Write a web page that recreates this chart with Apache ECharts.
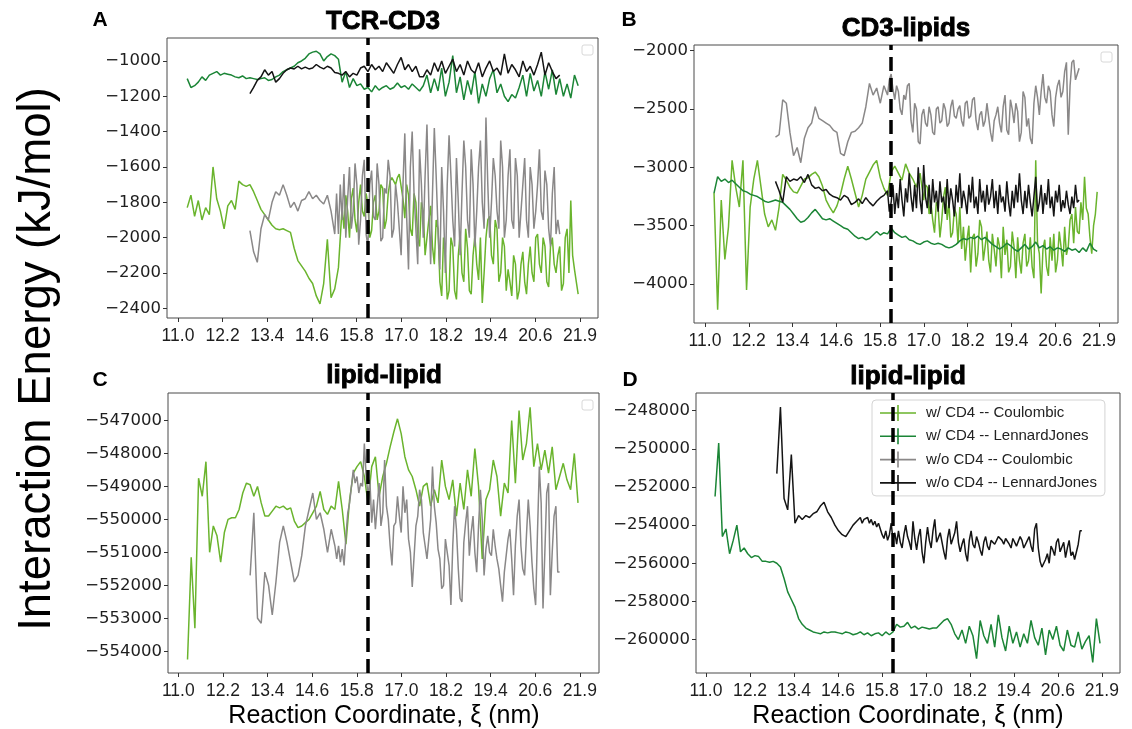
<!DOCTYPE html>
<html>
<head>
<meta charset="utf-8">
<script src="https://cdn.jsdelivr.net/npm/echarts@6/dist/echarts.min.js"></script>
<style>html,body{margin:0;padding:0;background:#fff}#c{width:1132px;height:729px}</style>
</head>
<body>
<div id="c"></div>
<script>
// ---------- tick labels ----------
const xTickValues = [11.0, 12.211, 13.422, 14.633, 15.844, 17.056, 18.267, 19.478, 20.689, 21.9];
const xTickLabels = ['11.0','12.2','13.4','14.6','15.8','17.0','18.2','19.4','20.6','21.9'];
const yTicksA = [-2400,-2200,-2000,-1800,-1600,-1400,-1200,-1000];
const yTicksB = [-4000,-3500,-3000,-2500,-2000];
const yTicksC = [-554000,-553000,-552000,-551000,-550000,-549000,-548000,-547000];
const yTicksD = [-260000,-258000,-256000,-254000,-252000,-250000,-248000];

// ---------- series names / x ranges (nm) ----------
const seriesNames = ['w/ CD4 -- Coulombic','w/ CD4 -- LennardJones','w/o CD4 -- Coulombic','w/o CD4 -- LennardJones'];
const withCD4Range = [11.25, 21.85];     // samples every 0.1 nm
const withoutCD4Range = [12.95, 21.35];  // samples every 0.1 nm
const dividerX = 16.15;

// ---------- Panel A: TCR-CD3 ----------
const A_wCoul_rangeA = [11.25, 15.35];   // every 0.1 nm
const A_wCoul_a = [-1830,-1760,-1880,-1790,-1900,-1830,-1870,-1600,-1780,-1850,
 -1950,-1820,-1790,-1840,-1680,-1700,-1710,-1700,-1740,-1790,
 -1840,-1870,-1900,-1930,-1950,-1955,-1950,-1960,-1970,-2060,
 -2130,-2160,-2190,-2230,-2260,-2330,-2375,-2260,-2010,-2340,
 -2290,-2170];
const A_wCoul_rangeB = [15.45, 21.85];   // every 0.05 nm
const A_wCoul_b = [-1830,-1950,-1760,-1850,-2000,-1780,-1720,-1900,-1970,-1800,
 -1700,-1850,-1880,-1750,-1810,-2000,-1960,-1800,-1760,-1900,
 -1850,-1700,-1720,-1950,-1900,-1750,-1680,-1660,-1650,-1700,
 -1660,-1640,-1640,-1780,-1890,-1700,-1760,-1950,-1990,-1750,
 -1800,-2000,-2050,-1800,-1850,-2100,-2090,-1900,-1820,-2050,
 -2150,-1900,-1950,-2250,-2330,-2000,-2100,-2350,-2300,-2000,
 -2050,-2300,-2350,-2100,-1980,-2200,-2250,-1950,-2060,-2300,
 -2320,-2100,-1990,-2150,-2240,-2000,-2370,-2200,-2000,-1900,
 -1880,-2100,-2150,-1900,-1950,-2250,-2200,-2000,-2050,-2300,
 -2180,-2250,-2330,-2100,-2150,-2350,-2300,-2150,-2080,-2250,
 -2320,-2150,-2050,-2200,-2250,-2000,-1980,-2150,-2200,-2000,
 -2050,-2250,-2280,-2050,-2000,-2150,-2200,-2100,-2050,-2300,
 -2260,-2000,-1950,-2200,-1790,-2100,-2180,-2250,-2320];
const A_wLJ = [-1100,-1150,-1140,-1120,-1090,-1110,-1080,-1070,-1060,-1080,
 -1070,-1075,-1080,-1090,-1095,-1085,-1100,-1095,-1100,-1105,
 -1100,-1095,-1110,-1105,-1090,-1080,-1060,-1050,-1040,-1030,
 -1010,-1000,-985,-960,-950,-945,-960,-1000,-975,-960,
 -970,-990,-1120,-1060,-1150,-1100,-1140,-1130,-1160,-1150,
 -1175,-1140,-1165,-1150,-1140,-1160,-1150,-1125,-1150,-1140,
 -1160,-1130,-1150,-1170,-1140,-1080,-1180,-1100,-1170,-1040,
 -1200,-1120,-970,-1180,-1090,-1220,-1110,-1190,-1060,-1240,
 -1130,-1200,-1100,-1050,-1180,-1130,-1200,-1230,-1190,-1210,
 -1150,-1080,-1200,-1070,-1170,-1110,-1200,-1060,-1160,-1050,
 -1190,-1100,-1200,-1130,-1210,-1080,-1140];
const A_woCoul_rangeA = [12.95, 15.25];  // every 0.1 nm
const A_woCoul_a = [-1960,-2080,-2140,-1950,-1870,-1900,-1800,-1740,-1760,-1700,
 -1760,-1830,-1800,-1850,-1790,-1780,-1740,-1780,-1760,-1790,
 -1810,-1760,-1850,-1980];
const A_woCoul_rangeB = [15.30, 21.35];  // every 0.05 nm
const A_woCoul_b = [-1750,-1980,-1700,-1900,-1640,-2000,-1780,-1600,-1950,-1850,
 -1580,-1700,-2040,-1900,-1650,-1560,-1980,-2050,-1700,-1620,
 -1880,-1900,-1580,-1700,-2020,-2000,-1720,-1750,-1560,-1650,
 -2000,-1950,-1700,-1800,-1950,-2100,-1700,-1410,-1880,-2180,
 -1600,-1400,-1750,-1950,-2150,-1500,-1700,-2000,-1650,-1360,
 -1800,-2150,-1750,-1380,-1650,-1950,-2180,-1600,-1850,-2200,
 -1700,-1420,-1650,-1900,-2050,-1550,-1800,-2100,-1750,-1450,
 -1600,-1900,-2000,-1500,-1700,-2050,-1850,-1600,-1450,-1800,
 -1950,-1320,-1700,-2000,-1800,-1550,-1650,-1850,-1950,-1450,
 -1600,-2000,-1900,-1650,-1500,-1900,-1950,-1550,-1650,-2000,
 -1850,-1700,-1550,-1900,-2000,-1600,-1700,-1950,-1850,-1700,
 -1500,-1850,-1900,-1620,-1700,-1950,-2050,-1750,-1600,-1980,
 -1900,-1980];
const A_woLJ = [-1185,-1150,-1110,-1090,-1050,-1080,-1060,-1120,-1100,-1070,
 -1050,-1040,-1045,-1030,-1045,-1035,-1045,-1040,-1020,-1035,
 -1045,-1030,-1040,-1065,-1070,-1080,-1060,-1090,-1070,-1080,
 -1040,-1030,-1060,-1020,-1050,-1030,-1060,-1010,-1040,-1070,
 -1020,-980,-1050,-1020,-1060,-1030,-1090,-1090,-1050,-1080,
 -1010,-1060,-1000,-1070,-1030,-990,-1060,-1020,-1080,-1000,
 -1050,-1070,-1010,-1090,-1040,-1000,-1060,-1040,-1080,-960,
 -1070,-1020,-1050,-1090,-1000,-1060,-1030,-1080,-1020,-950,
 -1080,-1010,-1060,-1100,-1080];

// ---------- Panel B: CD3-lipids ----------
const B_wCoul_rangeA = [11.25, 16.95];   // every 0.1 nm
const B_wCoul_a = [-3220,-4220,-3280,-3790,-3510,-2940,-3170,-3340,-2940,-4050,
 -3340,-3100,-2940,-3170,-3400,-3510,-3450,-3540,-3340,-3060,
 -3110,-3170,-3210,-3220,-3160,-3100,-3090,-3060,-3040,-3080,
 -3160,-3280,-3340,-3390,-3330,-3230,-3100,-2990,-3100,-3220,
 -3340,-3240,-3100,-3040,-2980,-2940,-3090,-3180,-3240,-3040,
 -2990,-3050,-3110,-2970,-3050,-3100,-3170,-3050];
const B_wCoul_rangeB = [17.05, 21.85];   // every 0.05 nm
const B_wCoul_b = [-3280,-3150,-3170,-3400,-3300,-3450,-3560,-3300,-3340,-3600,
 -3450,-3250,-3170,-3450,-3300,-3600,-3560,-3350,-3400,-3650,
 -3340,-3700,-3510,-3800,-3620,-3500,-3900,-3600,-3570,-3850,
 -3740,-3450,-3510,-3800,-3680,-3550,-3800,-3900,-3570,-3700,
 -3850,-3600,-3680,-3950,-3510,-3750,-3620,-3900,-3850,-3550,
 -3680,-3950,-3600,-3800,-3910,-3650,-3570,-3850,-3800,-3600,
 -3850,-3950,-2940,-3650,-3740,-4080,-3700,-3620,-3850,-3930,
 -3600,-3800,-3570,-3900,-3800,-3550,-3680,-3850,-3510,-3750,
 -3680,-3450,-3400,-3650,-3340,-3550,-3570,-3300,-3450,-3080,
 -3350,-3400,-3600,-3740,-3500,-3400,-3210];
const B_wLJ = [-3220,-3080,-3120,-3100,-3130,-3110,-3140,-3170,-3200,-3210,
 -3230,-3240,-3250,-3270,-3290,-3300,-3290,-3280,-3290,-3300,
 -3330,-3360,-3400,-3440,-3470,-3460,-3430,-3390,-3360,-3400,
 -3440,-3450,-3440,-3460,-3480,-3500,-3520,-3530,-3560,-3590,
 -3610,-3600,-3620,-3610,-3580,-3550,-3580,-3560,-3570,-3520,
 -3560,-3580,-3600,-3590,-3620,-3630,-3650,-3660,-3640,-3630,
 -3650,-3660,-3650,-3660,-3680,-3690,-3680,-3660,-3630,-3610,
 -3620,-3600,-3610,-3590,-3620,-3600,-3630,-3660,-3680,-3700,
 -3680,-3650,-3670,-3700,-3720,-3690,-3660,-3700,-3680,-3640,
 -3690,-3670,-3700,-3680,-3710,-3690,-3700,-3720,-3690,-3710,
 -3700,-3730,-3690,-3720,-3650,-3700,-3720];
const B_woCoul_rangeA = [12.95, 15.95];  // every 0.1 nm
const B_woCoul_a = [-2740,-2720,-2420,-2450,-2700,-2900,-2830,-2960,-2750,-2660,
 -2620,-2480,-2580,-2600,-2620,-2640,-2680,-2700,-2880,-2900,
 -2780,-2700,-2690,-2660,-2620,-2480,-2280,-2380,-2320,-2450,
 -2300];
const B_woCoul_rangeB = [16.05, 21.35];  // every 0.05 nm
const B_woCoul_b = [-2380,-2250,-2200,-2330,-2420,-2300,-2350,-2500,-2550,-2380,
 -2420,-2300,-2280,-2600,-2700,-2450,-2500,-2780,-2800,-2550,
 -2500,-2620,-2650,-2480,-2550,-2700,-2720,-2500,-2480,-2620,
 -2600,-2450,-2500,-2650,-2620,-2480,-2420,-2560,-2580,-2500,
 -2470,-2600,-2650,-2450,-2430,-2580,-2560,-2420,-2400,-2600,
 -2680,-2550,-2520,-2650,-2600,-2450,-2450,-2700,-2780,-2600,
 -2550,-2480,-2620,-2700,-2480,-2380,-2680,-2720,-2420,-2500,
 -2620,-2450,-2520,-2780,-2700,-2350,-2400,-2650,-2580,-2750,
 -2800,-2450,-2300,-2400,-2550,-2350,-2200,-2400,-2450,-2300,
 -2350,-2550,-2650,-2400,-2300,-2250,-2400,-2350,-2180,-2100,
 -2720,-2300,-2100,-2080,-2250,-2200,-2150];
const B_woLJ_rangeA = [12.95, 15.95];    // every 0.1 nm
const B_woLJ_a = [-3120,-3200,-3300,-3080,-3120,-3100,-3110,-3080,-3130,-3060,
 -3150,-3180,-3170,-3200,-3190,-3230,-3250,-3260,-3280,-3240,
 -3260,-3320,-3300,-3270,-3310,-3260,-3300,-3330,-3290,-3260,
 -3240];
const B_woLJ_rangeB = [16.05, 21.35];    // every 0.05 nm
const B_woLJ_b = [-3200,-3380,-3300,-3150,-3400,-3220,-3350,-3100,-3280,-3420,
 -3180,-3300,-3050,-3250,-3380,-3150,-3350,-3000,-3280,-3400,
 -2980,-3250,-3350,-3150,-3400,-3100,-3300,-3200,-3380,-3120,
 -3300,-3250,-3400,-3100,-3350,-3180,-3280,-3420,-3150,-3300,
 -3050,-3350,-3200,-3280,-3400,-3150,-3300,-3080,-3350,-3250,
 -3400,-3100,-3300,-3200,-3380,-3150,-3320,-3250,-3100,-3350,
 -3200,-3400,-3150,-3300,-3250,-3380,-3120,-3300,-3420,-3200,
 -3350,-3150,-3300,-3050,-3280,-3400,-3200,-3350,-3150,-3300,
 -3420,-3250,-3080,-3380,-3300,-3150,-3400,-3220,-3320,-3100,
 -3350,-3250,-3420,-3200,-3300,-3150,-3380,-3280,-3350,-3200,
 -3320,-3400,-3250,-3350,-3150,-3300,-3280];

// ---------- Panel C: lipid-lipid ----------
const C_wCoul = [-554250,-551150,-553300,-548750,-549300,-548250,-551000,-550200,-550500,-551300,
 -550400,-550000,-549950,-549950,-549700,-549200,-548900,-548950,-549300,-549000,
 -549500,-549900,-549900,-549750,-549600,-549650,-549600,-549700,-549650,-550050,
 -550250,-550200,-550100,-550000,-549800,-549600,-549150,-549700,-549850,-549600,
 -549700,-548850,-549700,-550750,-549400,-548600,-548400,-548250,-548700,-549500,
 -548400,-548100,-549300,-548700,-548300,-547800,-547350,-546950,-547400,-548100,
 -548500,-548700,-549100,-549600,-549000,-548900,-549600,-549100,-549500,-548200,
 -549000,-549400,-548800,-549900,-548900,-549700,-548500,-549300,-547850,-549000,
 -551200,-549400,-549100,-548200,-548700,-549900,-548900,-549200,-547000,-548900,
 -546700,-548200,-547700,-546600,-548400,-547700,-548500,-547900,-548600,-547800,
 -549100,-548700,-548300,-548800,-549100,-548000,-549500];
const C_woCoul_rangeA = [12.95, 15.25];  // every 0.1 nm
const C_woCoul_a = [-551700,-549800,-553000,-553150,-551600,-552000,-552900,-551900,-550700,-550200,
 -550700,-551300,-551900,-551700,-551100,-550200,-549700,-549200,-550000,-549800,
 -550300,-551000,-550300,-550800];
const C_woCoul_rangeB = [15.30, 21.35];  // every 0.05 nm
const C_woCoul_b = [-551200,-550800,-551300,-550900,-551400,-550500,-549800,-549500,-549000,-548500,
 -548900,-548700,-549200,-548900,-549000,-547700,-548700,-549300,-548800,-550100,
 -549400,-550300,-549600,-548900,-550200,-549800,-548200,-549600,-550000,-550800,
 -551400,-550200,-550100,-549300,-549900,-550400,-549000,-549800,-549400,-550600,
 -551000,-552050,-552000,-550200,-549900,-549100,-549400,-550400,-550800,-551200,
 -551200,-550000,-548400,-549600,-550100,-550900,-551200,-552100,-552000,-550600,
 -550600,-551400,-552600,-550800,-549600,-550300,-551500,-552400,-552500,-550700,
 -550100,-549600,-551100,-550400,-549900,-551000,-551600,-550200,-549100,-550000,
 -551700,-550900,-550500,-551000,-551100,-550300,-550800,-551200,-551500,-552000,
 -552500,-551600,-551100,-550600,-550300,-551200,-552300,-550800,-549900,-549400,
 -550800,-551500,-551700,-550500,-549400,-550200,-551300,-552100,-552600,-550400,
 -548400,-549500,-552700,-551000,-549200,-548900,-552300,-551000,-549900,-549600,
 -551600,-551600];

// ---------- Panel D: lipid-lipid ----------
const D_wLJ = [-252500,-249700,-254600,-254200,-255500,-254800,-254000,-255400,-255200,-255500,
 -255700,-255600,-255650,-255900,-255900,-255950,-255900,-256000,-256200,-256800,
 -257500,-257900,-258300,-258900,-259200,-259400,-259500,-259600,-259650,-259700,
 -259600,-259650,-259600,-259600,-259650,-259700,-259600,-259650,-259750,-259700,
 -259600,-259750,-259650,-259800,-259700,-259650,-259800,-259600,-259750,-259600,
 -259200,-259350,-259300,-259100,-259400,-259300,-259450,-259350,-259400,-259450,
 -259400,-259400,-259200,-259000,-258900,-259200,-259700,-260000,-259500,-260200,
 -259300,-259800,-261000,-259000,-259800,-260200,-259200,-260400,-258700,-259900,
 -260600,-259300,-260200,-259600,-260400,-259700,-260200,-259000,-259900,-260300,
 -259400,-260800,-259500,-260000,-259300,-260300,-260600,-259500,-260300,-260400,
 -259600,-260500,-260100,-259800,-261200,-258900,-260200];
const D_woLJ_rangeA = [12.95, 15.25];    // every 0.1 nm
const D_woLJ_a = [-251300,-247800,-252600,-253200,-250300,-253900,-253500,-253700,-253500,-253600,
 -253400,-253300,-253000,-252800,-253300,-253600,-254000,-254300,-254500,-254600,
 -254300,-254000,-253800,-253600];
const D_woLJ_rangeB = [15.30, 21.35];    // every 0.05 nm
const D_woLJ_b = [-253900,-253700,-253800,-253600,-253900,-253700,-254000,-253800,-254100,-253900,
 -254200,-254500,-254700,-254300,-254800,-254500,-253900,-254800,-254400,-255000,
 -254300,-254900,-255200,-254500,-254000,-254600,-254900,-255300,-253800,-254700,
 -255300,-254600,-254200,-255400,-256000,-254900,-254100,-254800,-255200,-254300,
 -253700,-254900,-255000,-254400,-254500,-255400,-255800,-254700,-254200,-255000,
 -255100,-254400,-253800,-254900,-255400,-255000,-254700,-255500,-255900,-254800,
 -254300,-255000,-255200,-254600,-254900,-255300,-255600,-254900,-254600,-255100,
 -255300,-254800,-254700,-255000,-254900,-254600,-254500,-254800,-255000,-254700,
 -254600,-255000,-255200,-254700,-254700,-255100,-255000,-254600,-254800,-255200,
 -255300,-254800,-254600,-255100,-255400,-254200,-253900,-255200,-255900,-256200,
 -256300,-255800,-255500,-256000,-255100,-255300,-255600,-254900,-254700,-255400,
 -255300,-254900,-255700,-255200,-254800,-255600,-255400,-255800,-255700,-255000,
 -254300,-254300];

// ---------- styling ----------
const FONT = '"Liberation Sans", Arial, Helvetica, sans-serif';
const TICKFONT = '"DejaVu Sans", "Liberation Sans", sans-serif';
const COLORS = ['#6ab42d', '#1b8536', '#8a8888', '#141414'];
const MINUS = '\u2212';

// spread the samples of a segment evenly over its x range
function toPairs(range, vals) {
  const n = vals.length;
  return vals.map((v, i) => [range[0] + (range[1] - range[0]) * i / (n - 1), v]);
}
function segs() {
  let out = [];
  for (let i = 0; i < arguments.length; i += 2) out = out.concat(toPairs(arguments[i], arguments[i + 1]));
  return out;
}
function fmtY(v) { return v < 0 ? MINUS + String(Math.abs(v)) : String(v); }
function fmtX(v) {
  for (let i = 0; i < xTickValues.length; i++) if (Math.abs(xTickValues[i] - v) < 1e-6) return xTickLabels[i];
  return '';
}

const grids = [
  {left: 167, top: 38, width: 431, height: 280},
  {left: 694, top: 45, width: 424, height: 278},
  {left: 168, top: 393, width: 431, height: 280},
  {left: 696, top: 393, width: 424, height: 280}
];
const xRanges = [[10.702, 22.388], [10.696, 22.426], [10.72, 22.42], [10.725, 22.40]];
const yRanges = [[-2455, -870], [-4334, -1951], [-554660, -546167], [-261755, -247070]];
const yTicks = [yTicksA, yTicksB, yTicksC, yTicksD];

const xAxes = grids.map((g, i) => ({
  type: 'value', gridIndex: i, min: xRanges[i][0], max: xRanges[i][1],
  axisLine: {show: false}, splitLine: {show: false},
  axisTick: {show: true, length: 4, lineStyle: {color: '#333'}, customValues: xTickValues},
  axisLabel: {customValues: xTickValues, margin: 9, fontSize: 17.5, color: '#1e1e1e', fontFamily: FONT, formatter: fmtX}
}));
const yAxes = grids.map((g, i) => ({
  type: 'value', gridIndex: i, min: yRanges[i][0], max: yRanges[i][1],
  axisLine: {show: false}, splitLine: {show: false},
  axisTick: {show: true, length: 4, lineStyle: {color: '#333'}, customValues: yTicks[i]},
  axisLabel: {customValues: yTicks[i], margin: 6, fontSize: 16.5, color: '#1e1e1e', fontFamily: TICKFONT, formatter: fmtY}
}));

function line(name, colorIdx, panel, data, withDivider) {
  const s = {
    name: name, type: 'line', xAxisIndex: panel, yAxisIndex: panel,
    data: data, showSymbol: false, symbol: 'none',
    color: COLORS[colorIdx], lineStyle: {width: 1.5, color: COLORS[colorIdx]},
    clip: true, animation: false
  };
  if (withDivider) {
    s.markLine = {
      silent: true, symbol: ['none', 'none'], label: {show: false},
      lineStyle: {color: '#000', type: [14, 7], width: 3.5},
      data: [{xAxis: dividerX}], animation: false
    };
  }
  return s;
}

const series = [
  line(seriesNames[0], 0, 0, segs(A_wCoul_rangeA, A_wCoul_a, A_wCoul_rangeB, A_wCoul_b)),
  line(seriesNames[1], 1, 0, segs(withCD4Range, A_wLJ)),
  line(seriesNames[2], 2, 0, segs(A_woCoul_rangeA, A_woCoul_a, A_woCoul_rangeB, A_woCoul_b)),
  line(seriesNames[3], 3, 0, segs(withoutCD4Range, A_woLJ), true),
  line(seriesNames[0], 0, 1, segs(B_wCoul_rangeA, B_wCoul_a, B_wCoul_rangeB, B_wCoul_b)),
  line(seriesNames[1], 1, 1, segs(withCD4Range, B_wLJ)),
  line(seriesNames[2], 2, 1, segs(B_woCoul_rangeA, B_woCoul_a, B_woCoul_rangeB, B_woCoul_b)),
  line(seriesNames[3], 3, 1, segs(B_woLJ_rangeA, B_woLJ_a, B_woLJ_rangeB, B_woLJ_b), true),
  line(seriesNames[0], 0, 2, segs(withCD4Range, C_wCoul)),
  line(seriesNames[2], 2, 2, segs(C_woCoul_rangeA, C_woCoul_a, C_woCoul_rangeB, C_woCoul_b), true),
  line(seriesNames[1], 1, 3, segs(withCD4Range, D_wLJ)),
  line(seriesNames[3], 3, 3, segs(D_woLJ_rangeA, D_woLJ_a, D_woLJ_rangeB, D_woLJ_b), true)
];

function txt(text, x, y, size, weight, extra) {
  return Object.assign({
    type: 'text', x: x, y: y, silent: true,
    style: {text: text, fontSize: size, fontWeight: weight, fontFamily: FONT, fill: '#000',
            textAlign: 'center', textVerticalAlign: 'middle'}
  }, extra || {});
}
function emptyLegend(x, y) {
  return {type: 'rect', x: x, y: y, silent: true, shape: {width: 11, height: 10, r: 2},
          style: {fill: '#fff', stroke: '#d8d8d8', lineWidth: 1}};
}
function boldTitle(text, x, y) {
  const t = txt(text, x, y, 26, 'bold');
  t.style.stroke = '#000'; t.style.lineWidth = 0.9;
  return t;
}

const option = {
  backgroundColor: '#fff',
  animation: false,
  grid: grids.map(g => Object.assign({show: true, borderColor: '#4a4a4a', borderWidth: 1, backgroundColor: 'transparent'}, g)),
  xAxis: xAxes,
  yAxis: yAxes,
  legend: {
    orient: 'vertical', left: 872, top: 400,
    data: seriesNames, selectedMode: false,
    icon: 'path://M0,7.2 L36,7.2 L36,8.8 L0,8.8 Z M17.2,0 L18.8,0 L18.8,16 L17.2,16 Z',
    itemWidth: 36, itemHeight: 16, itemGap: 7.3,
    padding: [5, 8, 5, 8],
    backgroundColor: '#fff', borderColor: '#d4d4d4', borderWidth: 1, borderRadius: 4,
    itemStyle: {borderWidth: 0},
    textStyle: {fontSize: 15, fontFamily: FONT, color: '#222', padding: [0, 0, 0, 5]}
  },
  graphic: [
    boldTitle('TCR-CD3', 383, 22),
    boldTitle('CD3-lipids', 906, 29),
    boldTitle('lipid-lipid', 384, 376),
    boldTitle('lipid-lipid', 908, 377),
    txt('A', 100, 20, 21, 'bold'),
    txt('B', 629, 20, 21, 'bold'),
    txt('C', 100, 380, 21, 'bold'),
    txt('D', 630, 380, 21, 'bold'),
    txt('Interaction Energy (kJ/mol)', 37, 359, 45.5, 'normal', {rotation: Math.PI / 2}),
    txt('Reaction Coordinate, \u03BE (nm)', 384, 716, 25, 'normal'),
    txt('Reaction Coordinate, \u03BE (nm)', 908, 716, 25, 'normal'),
    emptyLegend(582, 45),
    emptyLegend(1101, 52),
    emptyLegend(582, 400)
  ],
  series: series
};

const chart = echarts.init(document.getElementById('c'), null, {renderer: 'canvas', width: 1132, height: 729});
chart.setOption(option);
</script>
</body>
</html>
